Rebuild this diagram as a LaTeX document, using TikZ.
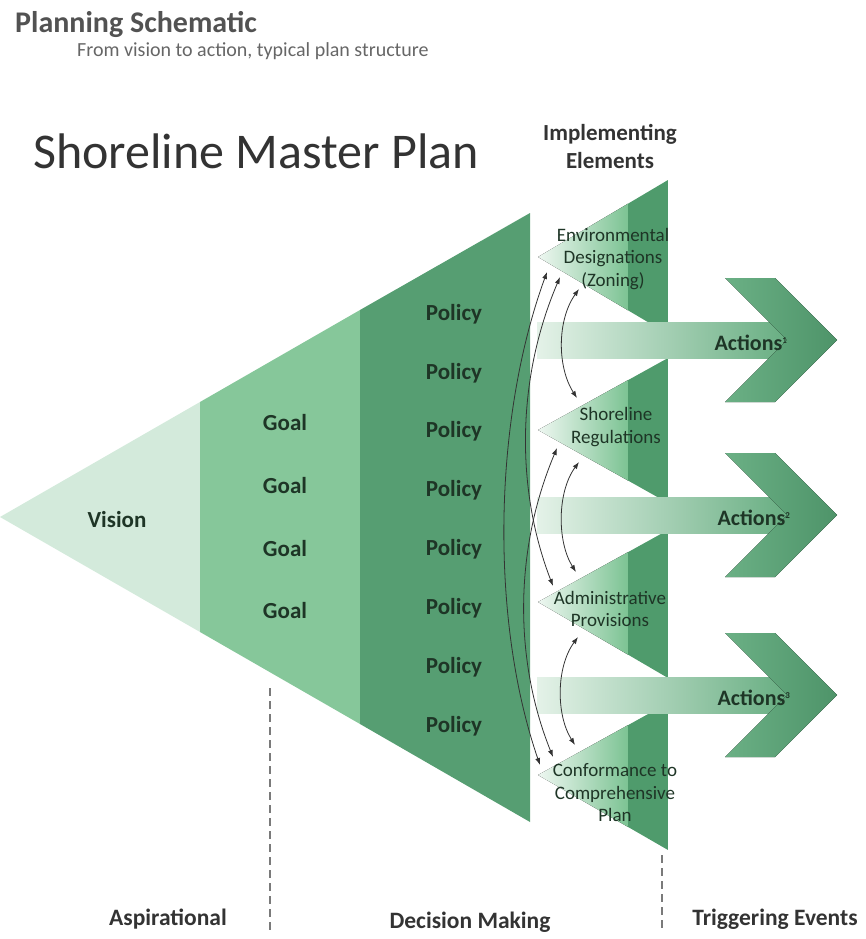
\documentclass[tikz,border=0pt]{standalone}
\usepackage{fontspec}
\setmainfont{Carlito}
\usetikzlibrary{arrows.meta}

\definecolor{visionfill}{HTML}{D3EADB}
\definecolor{goalfill}{HTML}{86C79A}
\definecolor{policyfill}{HTML}{569E72}
\definecolor{impllight}{HTML}{EEF7F1}
\definecolor{implmid}{HTML}{7CC393}
\definecolor{impldark}{HTML}{4F9B6C}
\definecolor{barlight}{HTML}{E4F2E8}
\definecolor{barmid}{HTML}{68AE82}
\definecolor{chevlight}{HTML}{6BB085}
\definecolor{chevdark}{HTML}{4E9469}
\definecolor{labgreen}{HTML}{1E3526}
\definecolor{txtdark}{HTML}{333333}
\definecolor{linegray}{HTML}{333333}
\definecolor{sepgray}{HTML}{7A7A7A}

\begin{document}
\begin{tikzpicture}[
  x=1pt, y=-1pt,
  every node/.style={inner sep=0pt, text=txtdark},
  lab/.style={font=\bfseries\fontsize{23}{26}\selectfont, text=labgreen},
  impl/.style={font=\fontsize{19}{22.5}\selectfont, align=center, text=labgreen},
  act/.style={font=\bfseries\fontsize{22}{24}\selectfont, text=labgreen},
  foot/.style={font=\bfseries\fontsize{23.5}{25}\selectfont, text=txtdark},
  link/.style={{Latex[length=7pt,width=5pt]}-{Latex[length=7pt,width=5pt]},
    draw=linegray, line width=0.8pt},
  sep/.style={draw=sepgray, line width=2.5pt, dash pattern=on 8pt off 5pt},
]
\useasboundingbox (0,0) rectangle (865,939);

%% ---- Titles ----
\node[anchor=base west, font=\bfseries\fontsize{30}{32}\selectfont, text=txtdark!85]
  (title) at (15,33) {Planning Schematic};
\node[anchor=base west, font=\fontsize{20}{22}\selectfont, text=txtdark!75]
  (subtitle) at (77,57) {From vision to action, typical plan structure};
\node[anchor=base west, font=\fontsize{50}{52}\selectfont]
  (smp) at (33,168) {Shoreline Master Plan};

%% ---- Vision / Goal / Policy wedge ----
\fill[visionfill] (0,517) -- (200,402) -- (200,632) -- cycle;
\fill[goalfill] (200,402) -- (360,310) -- (360,724) -- (200,632) -- cycle;
\fill[policyfill] (360,310) -- (530,213) -- (530,822) -- (360,724) -- cycle;

%% ---- Implementing elements ----
\foreach \t/\a/\b in {180/257/334, 358/430/503, 530/602/678, 703/775/850} {
  \begin{scope}
    \clip (668,\t) -- (538,\a) -- (668,\b) -- cycle;
    \fill[left color=impllight, right color=implmid] (538,\t) rectangle (628,\b);
    \fill[impldark] (628,\t) rectangle (668,\b);
  \end{scope}
}

%% ---- Action arrows ----
\foreach \c in {340, 515, 695} {
  \fill[left color=barlight, right color=barmid] (537,\c-18) rectangle (787,\c+18);
  \fill[left color=chevlight, right color=chevdark]
    (725,\c-62) -- (775,\c-62) -- (837,\c) -- (775,\c+62) -- (725,\c+62) -- (787,\c) -- cycle;
}

%% ---- Labels ----
\node[lab] (vision) at (117,520) {Vision};
\foreach \i/\y in {1/423, 2/486, 3/549, 4/611}
  \node[lab] (goal\i) at (285,\y) {Goal};
\foreach \i in {1,...,8}
  \node[lab] (pol\i) at (454,{314+58.857*(\i-1)}) {Policy};

\node[font=\bfseries\fontsize{23}{28}\selectfont, align=center, text=txtdark]
  (implhead) at (610,146) {Implementing\\Elements};
\node[impl] (env)   at (613,259) {Environmental\\Designations\\(Zoning)};
\node[impl] (shore) at (616,427) {Shoreline\\Regulations};
\node[impl] (admin) at (610,609) {Administrative\\Provisions};
\node[impl] (conf)  at (615,793) {Conformance to\\Comprehensive\\Plan};

\node[act] (act1) at (751,343) {Actions\textsuperscript{\fontsize{9}{9}\selectfont 1}};
\node[act] (act2) at (754,518) {Actions\textsuperscript{\fontsize{9}{9}\selectfont 2}};
\node[act] (act3) at (754,698) {Actions\textsuperscript{\fontsize{9}{9}\selectfont 3}};

%% ---- Links between elements ----
\coordinate (envA) at (547,272);
\coordinate (envB) at (560,277);
\coordinate (envC) at (579,289);
\coordinate (shoreT) at (577,398);
\coordinate (shoreA) at (557,448);
\coordinate (shoreB) at (579,462);
\coordinate (adminT) at (576,572);
\coordinate (adminA) at (553,586);
\coordinate (adminB) at (578,637);
\coordinate (confT) at (575,745);
\coordinate (confA) at (553,757);
\coordinate (confB) at (540,765);

\draw[link] (envC) .. controls (557,320) and (557,367) .. (shoreT);
\draw[link] (shoreB) .. controls (557,492) and (557,542) .. (adminT);
\draw[link] (adminB) .. controls (556,667) and (556,715) .. (confT);
\draw[link] (envB) .. controls (516,380) and (516,490) .. (adminA);
\draw[link] (shoreA) .. controls (514,550) and (514,660) .. (confA);
\draw[link] (envA) .. controls (493,420) and (490,620) .. (confB);

%% ---- Bottom bands ----
\draw[sep] (270,688) -- (270,930);
\draw[sep] (662,855) -- (662,930);
\node[foot] (aspir) at (168,919) {Aspirational};
\node[foot] (decis) at (470,922) {Decision Making};
\node[foot] (trig)  at (775,919) {Triggering Events};

\end{tikzpicture}
\end{document}
